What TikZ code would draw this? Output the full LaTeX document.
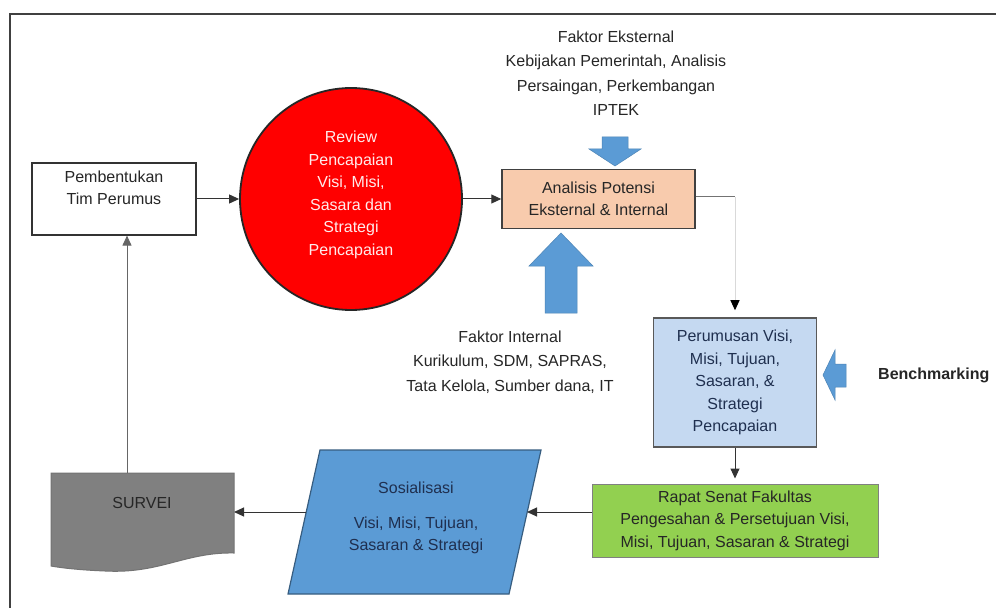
\documentclass[tikz,border=0pt]{standalone}
\usepackage{fontspec}
\setmainfont{Liberation Sans}
\usetikzlibrary{arrows.meta}
\definecolor{cred}{HTML}{FF0000}
\definecolor{cpeach}{HTML}{F8CBAD}
\definecolor{clblue}{HTML}{C5D9F1}
\definecolor{cgreen}{HTML}{92D050}
\definecolor{cblue}{HTML}{5B9BD5}
\definecolor{cgray}{HTML}{808080}
\definecolor{cline}{HTML}{333333}
\definecolor{cnavy}{HTML}{1F2F4F}
\tikzset{
  txt/.style={align=center, inner sep=0pt, font=\fontsize{16bp}{22.5bp}\selectfont},
  boxstyle/.style={rectangle, inner sep=0pt},
  conn/.style={draw=cline, line width=1bp, -{Triangle[length=10bp,width=9bp]}},
  plainline/.style={draw=cline, line width=1bp},
  faintline/.style={draw=black!15, line width=1bp},
  blockarrow/.style={fill=cblue, draw=cblue!85!black, line width=0.5bp},
}
\begin{document}
\begin{tikzpicture}[x=1bp,y=-1bp]
\useasboundingbox (0,0) rectangle (996,608);
\fill[white] (0,0) rectangle (996,608);
% frame
\draw[draw=black!75, line width=1.5bp] (10,608) -- (10,14) -- (996,14);

% Pembentukan
\node[boxstyle, draw=cline, line width=1.2bp, fill=white, minimum width=164bp, minimum height=72bp] (pem) at (114,199) {};
\node[txt, text=black!85] (pemtxt) at (114,188) {Pembentukan\\Tim Perumus};

% Review circle
\node[circle, fill=cred, draw=black!85, line width=1.8bp, minimum size=222bp, inner sep=0pt] (circ) at (351,199) {};
\node[txt, text=red!8] (circtxt) at (351,195) {Review\\Pencapaian\\Visi, Misi,\\Sasara dan\\Strategi\\Pencapaian};

% Analisis
\node[boxstyle, draw=black!75, line width=1.5bp, fill=cpeach, minimum width=193bp, minimum height=59bp, txt, text=black!85] (ana) at (598.5,199) {Analisis Potensi\\Eksternal \& Internal};

% Faktor Eksternal
\node[txt, text=black!85, font=\fontsize{16bp}{24.5bp}\selectfont] (fakext) at (616,73) {Faktor Eksternal\\Kebijakan Pemerintah, Analisis\\Persaingan, Perkembangan\\IPTEK};
\path[blockarrow] (602,137) -- (628,137) -- (628,149) -- (641,149) -- (615,166) -- (589,149) -- (602,149) -- cycle;

% Faktor Internal
\node[txt, text=black!85, font=\fontsize{16bp}{24.5bp}\selectfont] (fakint) at (510,362) {Faktor Internal\\Kurikulum, SDM, SAPRAS,\\Tata Kelola, Sumber dana, IT};
\path[blockarrow] (545,313) -- (577,313) -- (577,266) -- (593,266) -- (561,233) -- (529,266) -- (545,266) -- cycle;

% Perumusan
\node[boxstyle, draw=black!65, line width=1.5bp, fill=clblue, minimum width=163bp, minimum height=129bp, txt, text=cnavy] (per) at (735,382.5) {Perumusan Visi,\\Misi, Tujuan,\\Sasaran, \&\\Strategi\\Pencapaian};

% Benchmarking
\node[txt, anchor=west, font=\bfseries\fontsize{16bp}{22.5bp}\selectfont, text=black!85] (bench) at (878,375) {Benchmarking};
\path[blockarrow] (846,364) -- (846,387) -- (835,387) -- (835,400) -- (823,375) -- (835,350) -- (835,364) -- cycle;

% Rapat Senat
\node[boxstyle, draw=black!50, line width=1bp, fill=cgreen, minimum width=286bp, minimum height=73bp, txt, text=black!85] (rap) at (735,520.5) {Rapat Senat Fakultas\\Pengesahan \& Persetujuan Visi,\\Misi, Tujuan, Sasaran \& Strategi};

% Sosialisasi parallelogram
\path[fill=cblue, draw=cblue!60!black, line width=1.2bp] (320,450) -- (541,450) -- (509,594) -- (288,594) -- cycle;
\node[txt, text=cnavy] (sos) at (416,518) {Sosialisasi\\[12bp]Visi, Misi, Tujuan,\\Sasaran \& Strategi};
\coordinate (sosR) at (527,512);
\coordinate (sosL) at (306,512);

% SURVEI document
\path[fill=cgray, draw=black!55, line width=1bp] (51,473) -- (234,473) -- (234,553)
  .. controls (185,552) and (160,574) .. (105,571)
  .. controls (80,570) and (62,568) .. (51,566) -- cycle;
\node[txt, text=black!85] (sur) at (142,503) {SURVEI};
\coordinate (surT) at (127,473);
\coordinate (surR) at (234,512);

% connectors
\draw[conn] (pem.east) -- (circ.west);
\draw[conn] (circ.east) -- (ana.west);
\coordinate (bend) at (735,197);
\draw[plainline, draw=black!55] (ana.east |- bend) -- (bend);
\draw[faintline, -{Triangle[length=10bp,width=9bp,color=black]}, shorten >=7bp] (bend) -- (per.north);
\draw[conn, shorten >=5bp] (per.south) -- (rap.north);
\draw[conn] (rap.west |- sosR) -- (sosR);
\draw[conn] (sosL) -- (surR);
\draw[conn, draw=black!60] (surT) -- (pem.south -| surT);
\end{tikzpicture}
\end{document}
